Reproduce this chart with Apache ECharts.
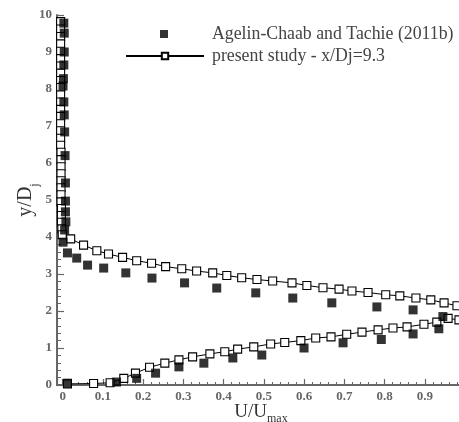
<!DOCTYPE html>
<html>
<head>
<meta charset="utf-8">
<script src="https://cdn.jsdelivr.net/npm/echarts@6/dist/echarts.min.js"></script>
<style>
  html, body { margin: 0; padding: 0; background: #fff; }
  #chart { width: 459px; height: 422px; }
</style>
</head>
<body>
<div id="chart"></div>
<script>
// Series names (legend entries)
const expName = 'Agelin-Chaab and Tachie (2011b)';
const simName = 'present study - x/Dj=9.3';

// Measured profile (filled squares): U/Umax and y/Dj
const expU = [0.003, 0.004, 0.004, 0.003, 0.002, 0.001, 0.003, 0.004, 0.005, 0.006, 0.007, 0.007, 0.007, 0.008, 0.005, 0.001,
  0.012, 0.035, 0.062, 0.102, 0.157, 0.222, 0.303, 0.383, 0.480, 0.572, 0.669, 0.781, 0.871, 0.945,
  0.012, 0.134, 0.184, 0.231, 0.289, 0.351, 0.423, 0.495, 0.600, 0.697, 0.792, 0.871, 0.935];
const expY = [9.78, 9.51, 9.00, 8.65, 8.28, 8.08, 7.65, 7.30, 6.84, 6.20, 5.46, 4.97, 4.68, 4.41, 4.19, 3.86,
  3.57, 3.43, 3.24, 3.16, 3.03, 2.89, 2.76, 2.62, 2.49, 2.35, 2.22, 2.11, 2.03, 1.85,
  0.05, 0.08, 0.18, 0.32, 0.49, 0.59, 0.73, 0.81, 1.00, 1.14, 1.23, 1.38, 1.52];

// Computed profile, outer branch (ambient column + upper shear layer)
const simUpperU = [-0.005, -0.005, -0.005, -0.005, -0.005, -0.005, -0.005, -0.005, -0.005, -0.005, -0.005,
  -0.005, -0.005, -0.005, -0.005, -0.005, -0.005, -0.005, -0.004, -0.004, -0.004, -0.004, -0.004, -0.004,
  -0.004, -0.004, -0.003, -0.003, -0.003, -0.002, -0.001,
  0.020, 0.052, 0.085, 0.114, 0.149, 0.184, 0.221, 0.256, 0.296, 0.333, 0.373, 0.408, 0.445, 0.483,
  0.522, 0.570, 0.607, 0.647, 0.687, 0.719, 0.759, 0.803, 0.838, 0.878, 0.915, 0.948, 0.980];
const simUpperY = [9.82, 9.62, 9.42, 9.22, 9.02, 8.82, 8.62, 8.43, 8.23, 8.04, 7.84, 7.65, 7.45, 7.26,
  7.06, 6.87, 6.67, 6.48, 6.29, 6.09, 5.90, 5.71, 5.52, 5.33, 5.14, 4.95, 4.77, 4.58, 4.40, 4.22, 4.06,
  3.95, 3.78, 3.63, 3.54, 3.45, 3.36, 3.29, 3.20, 3.14, 3.08, 3.03, 2.96, 2.90, 2.85,
  2.81, 2.76, 2.69, 2.63, 2.59, 2.54, 2.50, 2.44, 2.41, 2.35, 2.30, 2.22, 2.14];

// Computed profile, inner (near-wall) branch
const simLowerU = [0.012, 0.077, 0.118, 0.152, 0.181, 0.216, 0.254, 0.289, 0.323, 0.366, 0.403, 0.435,
  0.475, 0.517, 0.552, 0.592, 0.629, 0.667, 0.706, 0.744, 0.784, 0.821, 0.856, 0.898, 0.930, 0.958, 0.985];
const simLowerY = [0.03, 0.04, 0.06, 0.18, 0.32, 0.48, 0.59, 0.68, 0.76, 0.84, 0.90, 0.97,
  1.03, 1.11, 1.15, 1.20, 1.27, 1.30, 1.37, 1.43, 1.49, 1.54, 1.57, 1.64, 1.70, 1.80, 1.76];

// Axis ranges and tick labels
const xRange = [-0.014, 1.0];
const yRange = [0, 10];
const xTickLabels = ['0', '0.1', '0.2', '0.3', '0.4', '0.5', '0.6', '0.7', '0.8', '0.9'];

const zip = (a, b) => a.map((v, i) => [v, b[i]]);

const serif = '"Liberation Serif", "DejaVu Serif", serif';
const axisGray = '#666';
const legendText = { fontFamily: serif, fontSize: 17.8, color: '#444', lineHeight: 18 };

const chart = echarts.init(document.getElementById('chart'), null, { renderer: 'canvas' });

const openSquare = {
  type: 'line',
  name: simName,
  symbol: 'rect',
  symbolSize: 8,
  showAllSymbol: true,
  lineStyle: { color: '#000', width: 1 },
  itemStyle: { color: '#fff', borderColor: '#000', borderWidth: 1.1 },
  z: 3
};

chart.setOption({
  animation: false,
  backgroundColor: '#fff',
  textStyle: { fontFamily: serif },
  grid: { left: 57, right: -6, top: 15, bottom: 37, outerBoundsMode: 'none' },
  legend: [{
    // marker-only entry
    orient: 'vertical',
    left: 155,
    top: 20,
    itemWidth: 8,
    itemHeight: 8,
    data: [{ name: expName, icon: 'rect' }],
    textStyle: Object.assign({ padding: [0, 0, 0, 39] }, legendText)
  }, {
    // line + marker entry
    orient: 'vertical',
    left: 120,
    top: 42,
    itemWidth: 78,
    itemHeight: 8,
    data: [simName],
    textStyle: Object.assign({ padding: [0, 0, 0, 3] }, legendText)
  }],
  xAxis: [{
    type: 'value',
    min: xRange[0],
    max: xRange[1],
    splitNumber: 10,
    name: '{a|U/U}{b|max}',
    nameLocation: 'middle',
    nameGap: 16,
    nameMoveOverlap: false,
    nameTextStyle: {
      rich: {
        a: { fontFamily: serif, fontSize: 19, color: '#333', lineHeight: 22 },
        b: { fontFamily: serif, fontSize: 12, color: '#333', lineHeight: 12, verticalAlign: 'bottom', padding: [0, 0, -2, 0] }
      }
    },
    axisLine: { onZero: false, lineStyle: { color: axisGray, width: 2 } },
    axisTick: { inside: true, length: 6, lineStyle: { color: axisGray, width: 1.2 } },
    minorTick: { show: true, splitNumber: 5, length: 3, lineStyle: { color: axisGray, width: 1 } },
    splitLine: { show: false },
    axisLabel: {
      showMinLabel: false,
      showMaxLabel: false,
      margin: 5,
      fontFamily: serif, fontSize: 13, fontWeight: 'bold', color: '#666',
      formatter: v => {
        const k = Math.round(v * 10);
        return (Math.abs(v * 10 - k) < 1e-6 && k >= 0 && k < xTickLabels.length) ? xTickLabels[k] : '';
      }
    }
  }, {
    // top frame edge
    type: 'value',
    position: 'top',
    min: xRange[0],
    max: xRange[1],
    axisLine: { show: true, lineStyle: { color: axisGray, width: 2 } },
    axisTick: { show: false },
    axisLabel: { show: false },
    splitLine: { show: false }
  }],
  yAxis: {
    type: 'value',
    min: yRange[0],
    max: yRange[1],
    interval: 1,
    name: '{a|y/D}{b|j}',
    nameLocation: 'middle',
    nameGap: 19,
    nameMoveOverlap: false,
    nameTextStyle: {
      rich: {
        a: { fontFamily: serif, fontSize: 20, color: '#333', lineHeight: 24 },
        b: { fontFamily: serif, fontSize: 12, color: '#333', lineHeight: 12, verticalAlign: 'bottom', padding: [0, 0, -3, 0] }
      }
    },
    axisLine: { onZero: false, lineStyle: { color: axisGray, width: 2 } },
    axisTick: { inside: true, length: 7, lineStyle: { color: axisGray, width: 1.2 } },
    minorTick: { show: true, splitNumber: 5, length: 4, lineStyle: { color: axisGray, width: 1 } },
    splitLine: { show: false },
    axisLabel: { margin: 5, fontFamily: serif, fontSize: 13, fontWeight: 'bold', color: '#666' }
  },
  series: [
    Object.assign({}, openSquare, { data: zip(simLowerU, simLowerY) }),
    Object.assign({}, openSquare, { data: zip(simUpperU, simUpperY) }),
    {
      type: 'scatter',
      name: expName,
      symbol: 'rect',
      symbolSize: 9,
      itemStyle: { color: '#000' },
      data: zip(expU, expY),
      z: 4
    }
  ]
});
</script>
</body>
</html>
